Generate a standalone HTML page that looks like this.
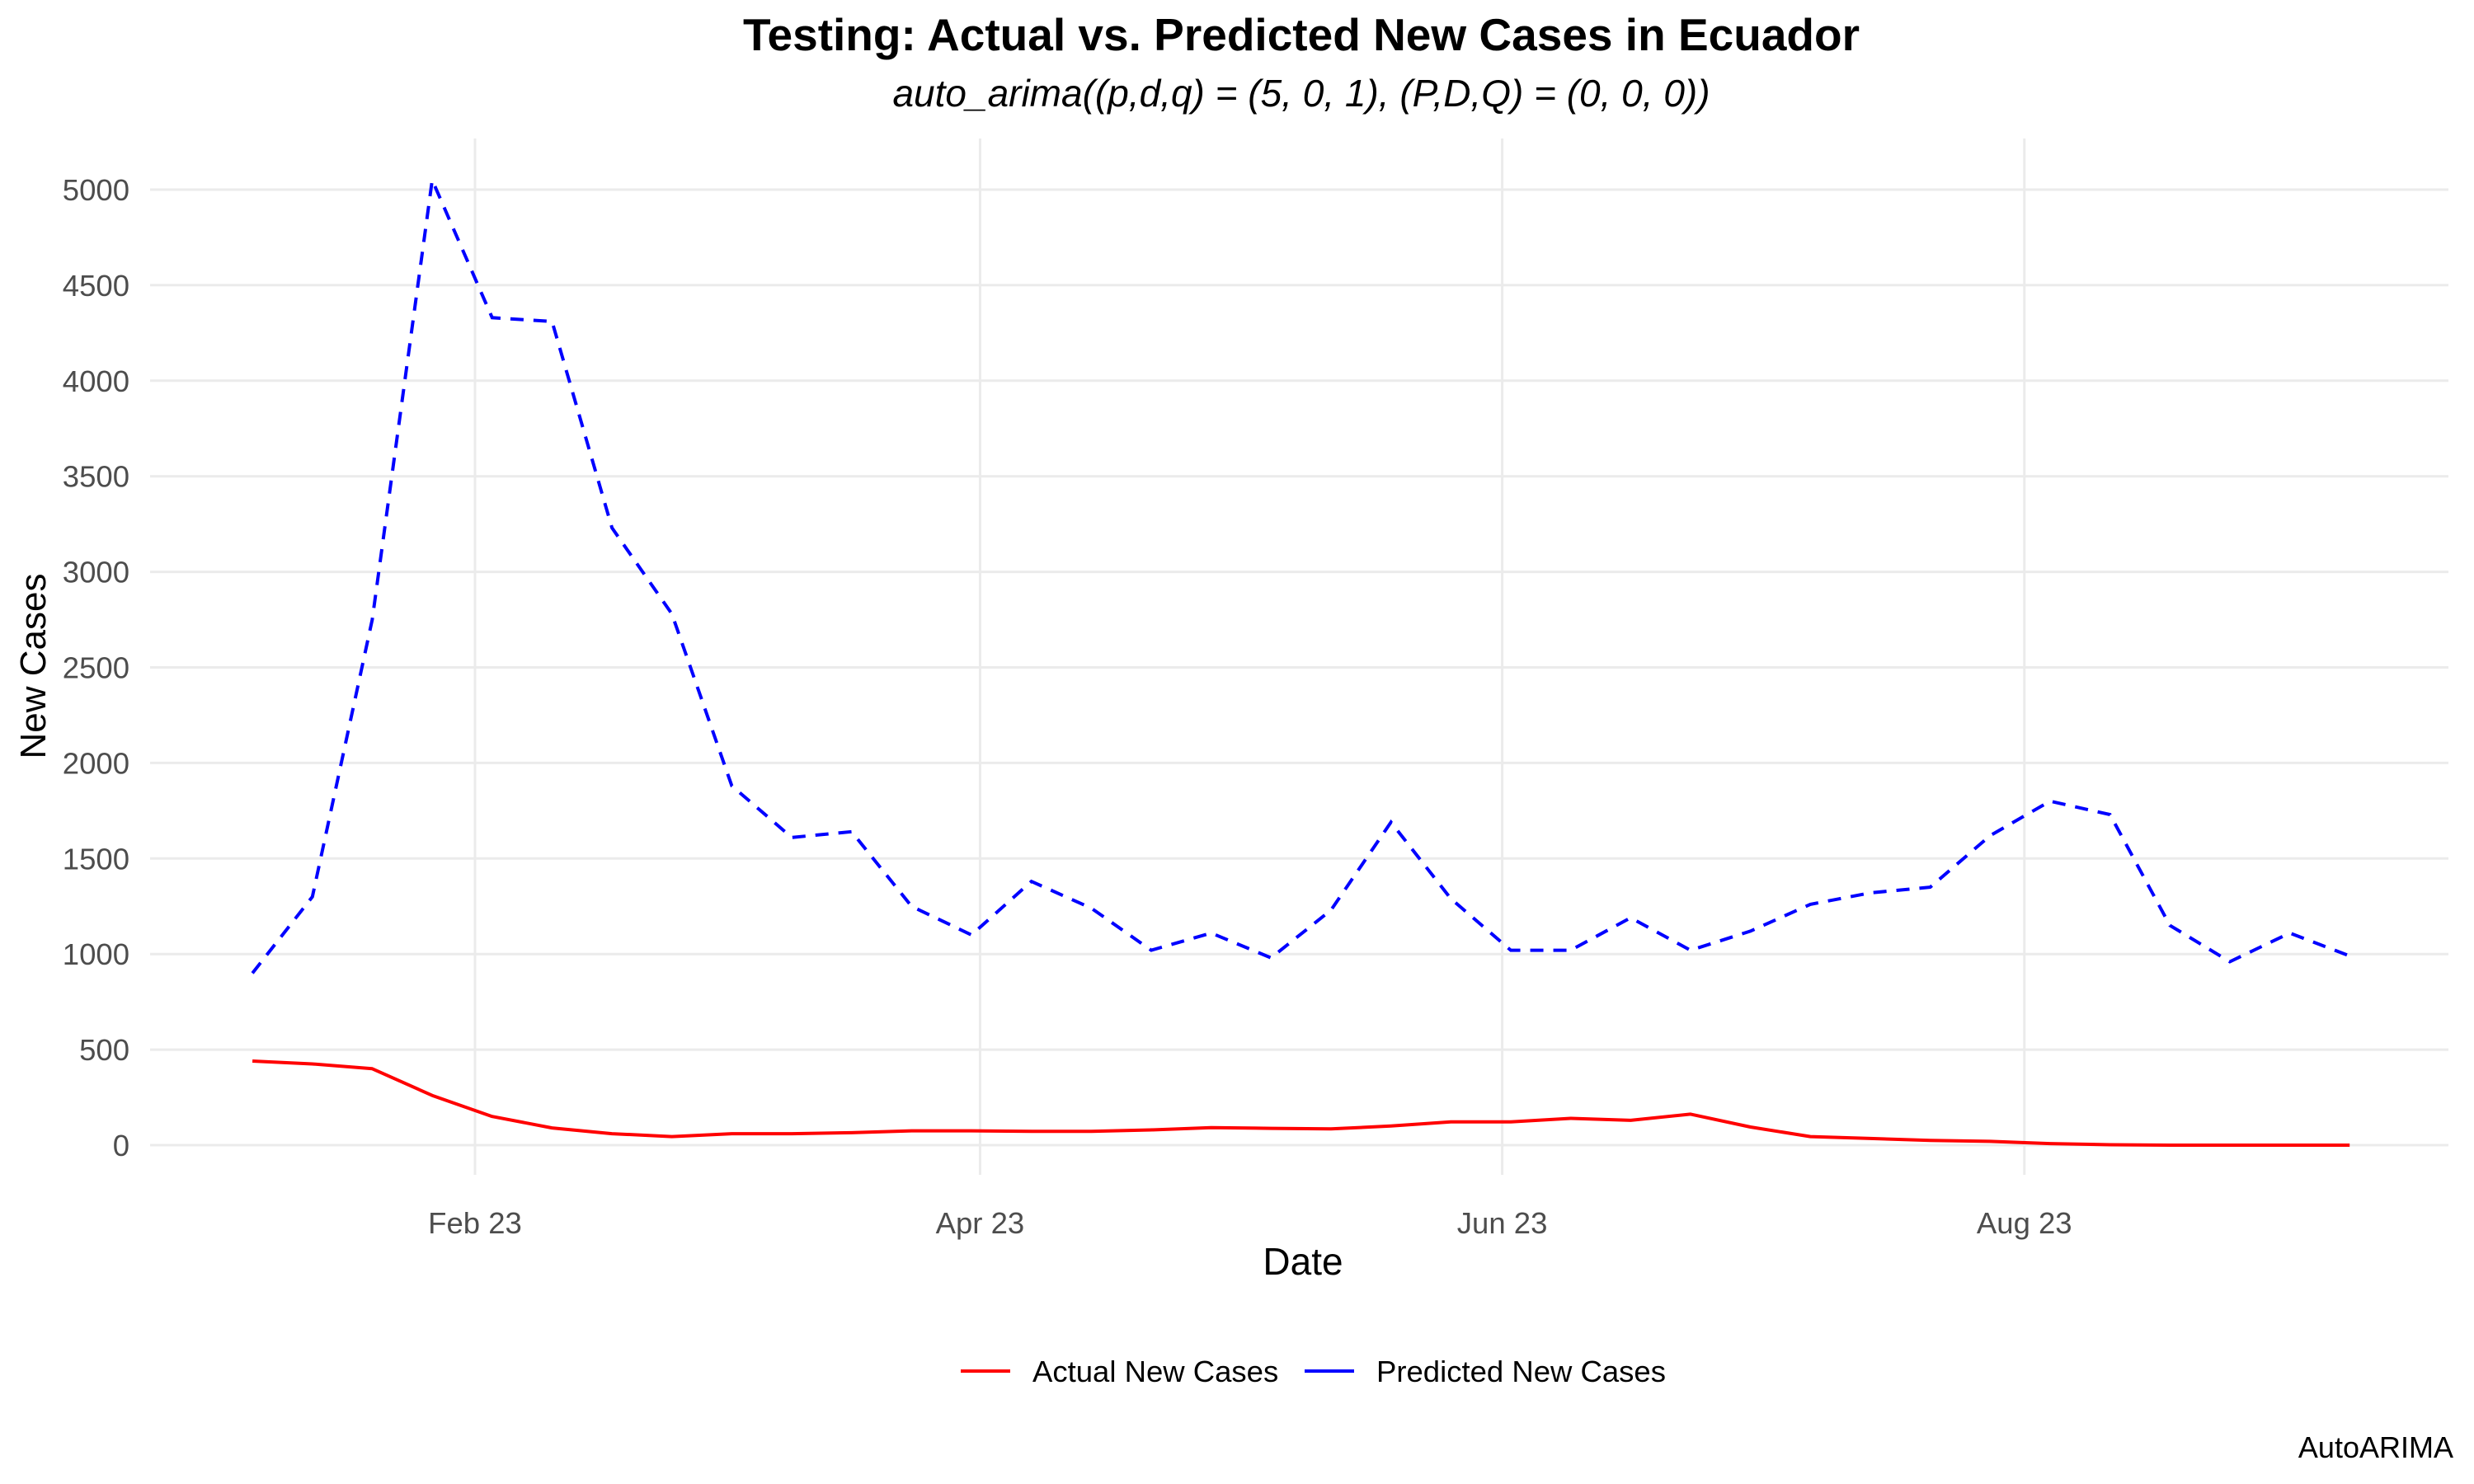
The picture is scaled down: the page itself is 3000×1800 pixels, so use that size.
<!DOCTYPE html>
<html><head><meta charset="utf-8"><style>
html,body{margin:0;padding:0;background:#fff;}
svg{display:block;font-family:"Liberation Sans",sans-serif;}
</style></head><body>
<svg id="chart" width="3000" height="1800" viewBox="0 0 3000 1800">
<g id="grid"></g>
<g id="yticks"></g>
<g id="xticks"></g>
<g id="series"></g>
<text x="1578" y="61" text-anchor="middle" font-size="55" font-weight="bold" fill="#000">Testing: Actual vs. Predicted New Cases in Ecuador</text>
<text x="1578" y="129" text-anchor="middle" font-size="46" font-style="italic" fill="#000">auto_arima((p,d,q) = (5, 0, 1), (P,D,Q) = (0, 0, 0))</text>
<text x="1580" y="1546" text-anchor="middle" font-size="46" fill="#000">Date</text>
<text x="0" y="0" transform="translate(55,808) rotate(-90)" text-anchor="middle" font-size="44" fill="#000">New Cases</text>
<g>
<g>
<line x1="1165" y1="1663" x2="1225" y2="1663" stroke="#ff0000" stroke-width="4"/>
<text x="1252" y="1676" font-size="36.5" fill="#000">Actual New Cases</text>
</g>
<g>
<line x1="1582" y1="1663" x2="1642" y2="1663" stroke="#0000ff" stroke-width="4"/>
<text x="1669" y="1676" font-size="36.5" fill="#000">Predicted New Cases</text>
</g>
</g>
<text x="2975" y="1768" text-anchor="end" font-size="36" fill="#000">AutoARIMA</text>
</svg>
<script>
const startDate = [2023, 0, 6];
const weekCount = 36;
const actualValues = [440,425,400,260,150,90,60,45,60,60,65,75,75,72,72,80,92,88,85,100,122,122,140,130,162,95,45,35,25,20,8,2,0,0,0,0];
const predictedValues = [900,1300,2750,5050,4330,4310,3230,2780,1880,1610,1640,1250,1100,1380,1240,1020,1110,980,1230,1690,1290,1020,1020,1190,1020,1120,1260,1320,1350,1620,1800,1730,1150,960,1110,990];
const yTicks = [0,500,1000,1500,2000,2500,3000,3500,4000,4500,5000];
const xTickLabels = ["Feb 23","Apr 23","Jun 23","Aug 23"];
const xTickDates = [[2023,1,1],[2023,3,1],[2023,5,1],[2023,7,1]];

const NS = "http://www.w3.org/2000/svg";
const DAY = 86400000;
const t0 = Date.UTC(...startDate);
const feb1 = Date.UTC(2023,1,1);
function xScale(ms){ return 576 + (ms - feb1)/DAY * 10.38; }
function yScale(v){ return 1389 - v * (1389-230)/5000; }
function mk(tag, attrs, parent){ const e=document.createElementNS(NS,tag); for(const k in attrs) e.setAttribute(k, attrs[k]); parent.appendChild(e); return e; }

const grid=document.getElementById('grid'), yt=document.getElementById('yticks'), xt=document.getElementById('xticks'), ser=document.getElementById('series');
yTicks.forEach(v=>{
  const y=yScale(v);
  const l=mk('line',{x1:182,x2:2969,y1:y,y2:y,stroke:'#ebebeb','stroke-width':3},grid);
  
  
  const t=mk('text',{x:157,y:y+13,'text-anchor':'end','font-size':36.5,fill:'#4d4d4d'},yt);
  t.textContent=v;
  
  
});
xTickDates.forEach((d,i)=>{
  const x=xScale(Date.UTC(...d));
  const l=mk('line',{x1:x,x2:x,y1:168,y2:1425,stroke:'#ebebeb','stroke-width':3},grid);
  
  
  const t=mk('text',{x:x,y:1496,'text-anchor':'middle','font-size':36.5,fill:'#4d4d4d'},xt);
  t.textContent=xTickLabels[i];
  
  
});
function pts(vals){ return vals.map((v,i)=>xScale(t0+i*7*DAY).toFixed(1)+','+yScale(v).toFixed(1)).join(' '); }
const a=mk('polyline',{points:pts(actualValues),fill:'none',stroke:'#ff0000','stroke-width':4,'stroke-linejoin':'round'},ser);


const p=mk('polyline',{points:pts(predictedValues),fill:'none',stroke:'#0000ff','stroke-width':4,'stroke-dasharray':'16 12'},ser);


</script>
</body></html>
